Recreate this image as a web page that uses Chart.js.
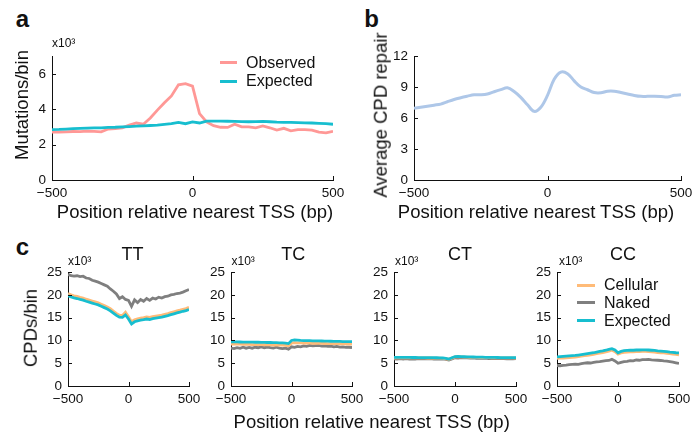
<!DOCTYPE html>
<html>
<head>
<meta charset="utf-8">
<script src="https://cdn.jsdelivr.net/npm/chart.js@4.4.1/dist/chart.umd.min.js"></script>
<style>
  html, body { margin: 0; padding: 0; background: #fff; }
  #fig { position: relative; width: 694px; height: 438px; overflow: hidden;
         font-family: 'Liberation Sans', Arial, Helvetica, sans-serif; color: #111; }
  #fig canvas { position: absolute; }
  .t { position: absolute; line-height: 1; white-space: nowrap; }
  .sw { position: absolute; height: 3px; }
</style>
</head>
<body>
<div id="fig"></div>
<script>
// bin centres, bp relative to nearest TSS
const positions = [-500, -475, -450, -425, -400, -375, -350, -325, -300, -275,
  -250, -225, -200, -175, -150, -125, -100, -75, -50, -25,
  0, 25, 50, 75, 100, 125, 150, 175, 200, 225,
  250, 275, 300, 325, 350, 375, 400, 425, 450, 475, 500];

// a: mutations/bin (x10^3)
const observedA = [2.70, 2.70, 2.72, 2.74, 2.73, 2.76, 2.75, 2.72, 2.88, 2.90,
  2.95, 3.10, 3.22, 3.15, 3.50, 3.95, 4.36, 4.75, 5.38, 5.44,
  5.30, 3.75, 3.28, 3.07, 2.98, 2.97, 3.15, 3.00, 3.00, 2.95,
  3.05, 2.95, 2.82, 2.92, 2.78, 2.85, 2.85, 2.82, 2.70, 2.66, 2.75];
const expectedA = [2.85, 2.86, 2.88, 2.90, 2.92, 2.93, 2.94, 2.95, 2.97, 2.98,
  3.00, 3.02, 3.04, 3.06, 3.08, 3.10, 3.14, 3.18, 3.25, 3.18,
  3.28, 3.22, 3.33, 3.33, 3.33, 3.32, 3.31, 3.30, 3.29, 3.30,
  3.31, 3.29, 3.27, 3.26, 3.25, 3.24, 3.23, 3.22, 3.20, 3.18, 3.15];

// b: average CPD repair
const repairB = [6.95, 7.05, 7.15, 7.25, 7.35, 7.58, 7.8, 7.97, 8.12, 8.26,
  8.26, 8.33, 8.55, 8.75, 8.93, 8.57, 8.0, 7.29, 6.65, 7.05,
  8.2, 9.75, 10.45, 10.3, 9.6, 9.0, 8.74, 8.47, 8.45, 8.6,
  8.6, 8.47, 8.33, 8.19, 8.1, 8.1, 8.1, 8.08, 8.04, 8.2, 8.26];

// c: CPDs/bin (x10^3) per dipyrimidine
const ttCellular = [20.3, 20.0, 19.8, 19.65, 19.45, 19.3, 19.05, 18.85, 18.65, 18.45,
  18.25, 17.95, 17.65, 17.35, 16.95, 16.45, 15.95, 15.55, 15.5, 16.2,
  15.2, 14.1, 14.55, 14.75, 14.9, 15.0, 15.15, 15.05, 15.25, 15.35,
  15.45, 15.55, 15.75, 15.9, 16.1, 16.3, 16.5, 16.65, 16.85, 17.0, 17.3];
const ttNaked = [24.5, 24.2, 24.1, 24.2, 24.0, 24.1, 23.7, 23.6, 23.2, 23.0,
  22.8, 22.5, 22.2, 21.9, 21.3, 20.8, 20.2, 19.2, 19.6, 19.0,
  18.8, 17.5, 18.9, 18.3, 19.0, 18.6, 19.2, 18.8, 19.3, 19.1,
  19.5, 19.3, 19.6, 19.7, 20.0, 20.1, 20.3, 20.4, 20.6, 20.9, 21.2];
const ttExpected = [19.8, 19.55, 19.35, 19.2, 19.0, 18.85, 18.6, 18.4, 18.2, 18.0,
  17.8, 17.5, 17.2, 16.9, 16.5, 16.0, 15.5, 15.1, 15.05, 15.6,
  14.7, 13.6, 14.1, 14.3, 14.45, 14.55, 14.7, 14.6, 14.8, 14.9,
  15.0, 15.1, 15.3, 15.45, 15.65, 15.85, 16.05, 16.2, 16.4, 16.55, 16.8];

const tcCellular = [9.2, 9.2, 9.18, 9.17, 9.15, 9.14, 9.12, 9.1, 9.1, 9.08,
  9.07, 9.05, 9.05, 9.03, 9.0, 9.0, 8.98, 8.95, 8.92, 8.85,
  9.4, 9.5, 9.48, 9.45, 9.42, 9.4, 9.4, 9.38, 9.36, 9.35,
  9.35, 9.33, 9.32, 9.3, 9.3, 9.28, 9.27, 9.25, 9.25, 9.22, 9.2];
const tcNaked = [8.3, 8.2, 8.4, 8.25, 8.5, 8.3, 8.45, 8.3, 8.5, 8.4,
  8.6, 8.4, 8.55, 8.4, 8.3, 8.5, 8.3, 8.2, 8.3, 8.1,
  8.6, 8.5, 8.7, 8.6, 8.8, 8.7, 8.9, 8.8, 8.85, 8.9,
  8.75, 8.8, 8.7, 8.75, 8.6, 8.7, 8.55, 8.6, 8.5, 8.5, 8.45];
const tcExpected = [9.7, 9.7, 9.68, 9.66, 9.65, 9.64, 9.63, 9.62, 9.6, 9.6,
  9.58, 9.56, 9.55, 9.55, 9.53, 9.5, 9.48, 9.45, 9.4, 9.3,
  10.0, 10.1, 10.05, 10.0, 9.98, 9.95, 9.95, 9.92, 9.9, 9.9,
  9.88, 9.86, 9.85, 9.82, 9.8, 9.8, 9.78, 9.76, 9.75, 9.75, 9.75];

const ctCellular = [6.2, 6.22, 6.2, 6.2, 6.18, 6.2, 6.18, 6.17, 6.18, 6.16,
  6.17, 6.15, 6.15, 6.14, 6.12, 6.1, 6.08, 5.98, 5.85, 6.12,
  6.38, 6.42, 6.38, 6.35, 6.33, 6.3, 6.3, 6.28, 6.26, 6.25,
  6.23, 6.22, 6.2, 6.2, 6.18, 6.17, 6.18, 6.17, 6.16, 6.16, 6.15];
const ctNaked = [5.95, 5.9, 6.0, 5.92, 6.02, 5.9, 5.98, 5.92, 6.0, 5.95,
  6.02, 5.95, 6.0, 5.92, 5.98, 5.9, 5.95, 5.85, 5.7, 5.95,
  6.2, 6.15, 6.25, 6.18, 6.2, 6.1, 6.15, 6.08, 6.12, 6.05,
  6.1, 6.02, 6.08, 6.0, 6.05, 6.0, 6.02, 5.98, 6.0, 5.98, 6.0];
const ctExpected = [6.3, 6.3, 6.28, 6.28, 6.27, 6.27, 6.26, 6.26, 6.25, 6.25,
  6.24, 6.24, 6.23, 6.22, 6.2, 6.18, 6.15, 6.05, 5.9, 6.2,
  6.45, 6.5, 6.45, 6.42, 6.4, 6.38, 6.36, 6.35, 6.33, 6.32,
  6.3, 6.3, 6.28, 6.27, 6.26, 6.25, 6.25, 6.25, 6.25, 6.25, 6.25];

const ccCellular = [6.05, 6.1, 6.15, 6.2, 6.25, 6.3, 6.35, 6.45, 6.55, 6.65,
  6.75, 6.85, 6.95, 7.1, 7.2, 7.35, 7.5, 7.65, 7.85, 7.55,
  7.0, 7.25, 7.4, 7.45, 7.5, 7.5, 7.55, 7.55, 7.6, 7.6,
  7.55, 7.5, 7.45, 7.35, 7.3, 7.25, 7.15, 7.1, 7.0, 6.95, 6.85];
const ccNaked = [4.5, 4.45, 4.55, 4.6, 4.7, 4.75, 4.8, 4.75, 4.9, 5.0,
  5.1, 5.05, 5.2, 5.3, 5.35, 5.45, 5.55, 5.6, 5.85, 5.5,
  5.0, 5.2, 5.35, 5.4, 5.55, 5.5, 5.7, 5.65, 5.8, 5.8,
  5.85, 5.75, 5.7, 5.65, 5.6, 5.5, 5.45, 5.35, 5.25, 5.1, 4.95];
const ccExpected = [6.4, 6.45, 6.5, 6.55, 6.6, 6.65, 6.7, 6.8, 6.9, 7.0,
  7.1, 7.2, 7.3, 7.45, 7.6, 7.7, 7.85, 8.05, 8.2, 7.9,
  7.3, 7.6, 7.75, 7.8, 7.85, 7.85, 7.9, 7.9, 7.95, 7.95,
  7.9, 7.85, 7.8, 7.7, 7.65, 7.6, 7.55, 7.45, 7.4, 7.3, 7.25];

const FONT = "'Liberation Sans', Arial, Helvetica, sans-serif";
const INK = '#111';
const C_OBS = '#ff9896';
const C_EXP = '#17becf';
const C_REPAIR = '#aec7e8';
const C_CELL = '#ffbb78';
const C_NAKED = '#7f7f7f';

Chart.defaults.font.family = FONT;
Chart.defaults.color = INK;

const fig = document.getElementById('fig');

// text placed by its baseline (line-height 1 => baseline at 0.8465em)
function text(str, x, base, size, opt = {}) {
  const d = document.createElement('div');
  d.className = 't';
  d.textContent = str;
  d.style.fontSize = size + 'px';
  if (opt.bold) d.style.fontWeight = 'bold';
  d.style.left = x + 'px';
  d.style.top = (base - 0.8465 * size) + 'px';
  if (opt.center) d.style.transform = 'translateX(-50%)';
  fig.appendChild(d);
}

// rotated y title, baseline at x = base, centred on cy
function vtext(str, base, cy, size) {
  const d = document.createElement('div');
  d.className = 't';
  d.textContent = str;
  d.style.fontSize = size + 'px';
  d.style.left = (base - 0.3465 * size) + 'px';
  d.style.top = cy + 'px';
  d.style.transform = 'translate(-50%,-50%) rotate(-90deg)';
  fig.appendChild(d);
}

function swatch(color, x1, x2, cy) {
  const d = document.createElement('div');
  d.className = 'sw';
  d.style.background = color;
  d.style.left = x1 + 'px';
  d.style.width = (x2 - x1) + 'px';
  d.style.top = (cy - 1.5) + 'px';
  fig.appendChild(d);
}

function fmt(v) {
  return v < 0 ? '\u2212' + Math.abs(v) : String(v);
}

// short tick marks pointing into the plot
const inwardTicks = {
  id: 'inwardTicks',
  afterDatasetsDraw(chart) {
    const { ctx, chartArea: a, scales } = chart;
    ctx.save();
    ctx.strokeStyle = INK;
    ctx.lineWidth = 1;
    ctx.beginPath();
    scales.x.ticks.forEach((t) => {
      const px = Math.round(scales.x.getPixelForValue(t.value)) + 0.5;
      ctx.moveTo(px, a.bottom);
      ctx.lineTo(px, a.bottom - 4);
    });
    scales.y.ticks.forEach((t) => {
      const py = Math.round(scales.y.getPixelForValue(t.value)) + 0.5;
      ctx.moveTo(a.left, py);
      ctx.lineTo(a.left + 4, py);
    });
    ctx.stroke();
    ctx.restore();
  },
};

const PAD = { left: 2, top: 10, right: 18, bottom: 2 };
const Y_W = 30;
const X_H = 24;

function panel(box, yMax, yStep, series, tension) {
  const c = document.createElement('canvas');
  const w = box.r - box.l + Y_W + PAD.left + PAD.right;
  const h = box.b - box.t + X_H + PAD.top + PAD.bottom;
  c.width = w;
  c.height = h;
  c.style.width = w + 'px';
  c.style.height = h + 'px';
  c.style.left = (box.l - Y_W - PAD.left) + 'px';
  c.style.top = (box.t - PAD.top) + 'px';
  fig.appendChild(c);

  new Chart(c, {
    type: 'line',
    data: {
      datasets: series.map((s) => ({
        label: s.label,
        data: positions.map((x, i) => ({ x, y: s.values[i] })),
        borderColor: s.color,
        borderWidth: s.width || 2.8,
        pointRadius: 0,
        fill: false,
        tension: tension || 0,
        order: s.order,
      })),
    },
    options: {
      responsive: false,
      animation: false,
      devicePixelRatio: 1,
      layout: { padding: PAD },
      plugins: { legend: { display: false }, tooltip: { enabled: false } },
      scales: {
        x: {
          type: 'linear',
          min: -500,
          max: 500,
          afterFit: (s) => { s.height = X_H; },
          grid: { display: true, drawOnChartArea: false, drawTicks: false },
          border: { display: true, color: INK, width: 1 },
          ticks: { stepSize: 500, padding: 5, maxRotation: 0, color: INK, font: { size: 13.5 }, callback: fmt },
        },
        y: {
          min: 0,
          max: yMax,
          afterFit: (s) => { s.width = Y_W; },
          grid: { display: true, drawOnChartArea: false, drawTicks: false },
          border: { display: true, color: INK, width: 1 },
          ticks: { stepSize: yStep, includeBounds: false, padding: 6, color: INK, font: { size: 13.5 } },
        },
      },
    },
    plugins: [inwardTicks],
  });
}

// ---- a ----
panel({ l: 52, t: 52, r: 333, b: 180 }, 7, 2, [
  { label: 'Observed', values: observedA, color: C_OBS, order: 1 },
  { label: 'Expected', values: expectedA, color: C_EXP, order: 0 },
]);
// ---- b ----
panel({ l: 414, t: 52, r: 681, b: 180 }, 12, 3, [
  { label: 'Average CPD repair', values: repairB, color: C_REPAIR, width: 3 },
], 0.35);
// ---- c ----
const cBoxes = [
  { l: 68, r: 189 }, { l: 231, r: 352 }, { l: 394, r: 516 }, { l: 557, r: 679 },
];
const cSets = [
  [ttCellular, ttNaked, ttExpected],
  [tcCellular, tcNaked, tcExpected],
  [ctCellular, ctNaked, ctExpected],
  [ccCellular, ccNaked, ccExpected],
];
cBoxes.forEach((bx, i) => {
  panel({ l: bx.l, r: bx.r, t: 268, b: 386 }, 25, 5, [
    { label: 'Cellular', values: cSets[i][0], color: C_CELL, order: 1 },
    { label: 'Naked', values: cSets[i][1], color: C_NAKED, order: 2 },
    { label: 'Expected', values: cSets[i][2], color: C_EXP, order: 0 },
  ]);
});

// ---- labels ----
text('a', 15.7, 27.3, 24, { bold: true });
text('b', 364.3, 27.3, 24, { bold: true });
text('c', 15.7, 255, 24, { bold: true });

text('x10\u00b3', 52, 46.7, 12);
text('x10\u00b3', 68, 265, 12);
text('x10\u00b3', 231.5, 265, 12);
text('x10\u00b3', 395, 265, 12);
text('x10\u00b3', 559, 265, 12);

vtext('Mutations/bin', 28.9, 105, 18.5);
vtext('Average CPD repair', 387.9, 115, 18.5);
vtext('CPDs/bin', 37.9, 328.3, 18.5);

text('Position relative nearest TSS (bp)', 195, 218.3, 18.5, { center: true });
text('Position relative nearest TSS (bp)', 536, 218.3, 18.5, { center: true });
text('Position relative nearest TSS (bp)', 371.7, 429, 18.5, { center: true });

['TT', 'TC', 'CT', 'CC'].forEach((name, i) => {
  text(name, [132.5, 293.3, 460, 623][i], 260.5, 18, { center: true });
});

swatch(C_OBS, 220, 237, 62.7);
text('Observed', 246, 68.3, 16);
swatch(C_EXP, 220, 237, 81.7);
text('Expected', 246, 86.8, 16);

swatch(C_CELL, 577, 595, 285);
text('Cellular', 604, 290.8, 16);
swatch(C_NAKED, 577, 595, 302.7);
text('Naked', 604, 308.2, 16);
swatch(C_EXP, 577, 595, 320.7);
text('Expected', 604, 326.5, 16);
</script>
</body>
</html>
